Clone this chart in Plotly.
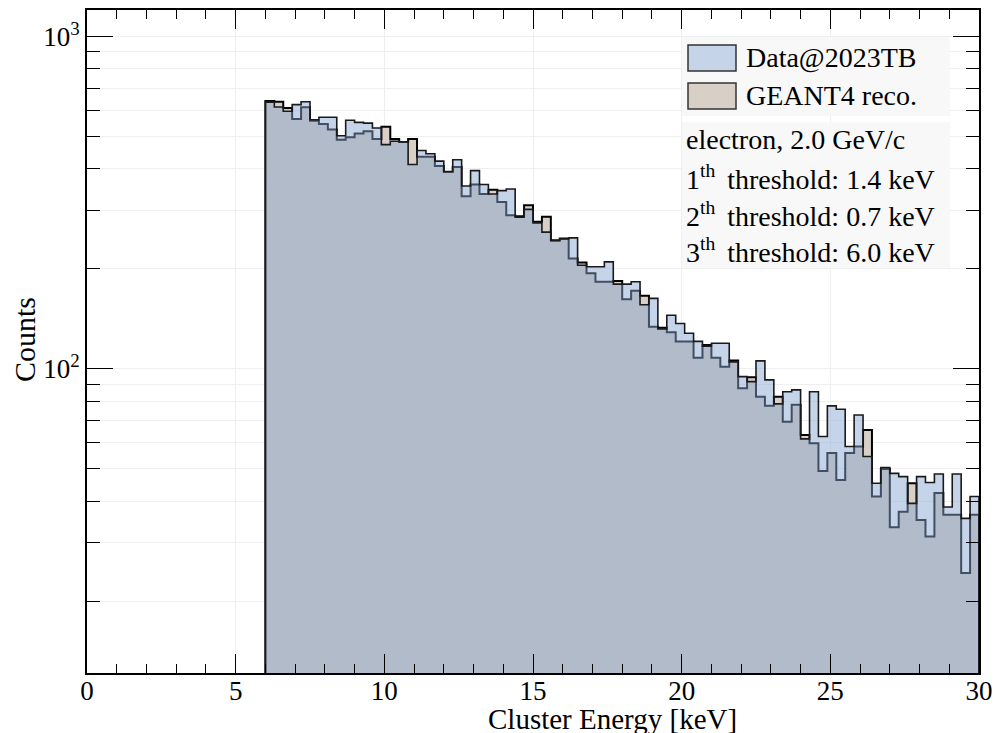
import numpy as np
import plotly.graph_objects as go

# ---------------- data ----------------
bin_width = 0.3          # keV
first_edge = 6.0         # keV (3rd threshold)

data_counts = [635, 614, 596, 624, 637, 562, 572, 572, 503, 560,
               552, 549, 531, 473, 484, 482, 412, 454, 444, 422,
               392, 426, 355, 395, 359, 336, 344, 348, 286, 302,
               275, 258, 243, 246, 248, 205, 203, 203, 210, 180,
               180, 183, 156, 163, 132, 145, 137, 128, 121, 117,
               119.5, 119.5, 105, 94.8, 91.6, 105.7, 92.7, 78.5, 85.4, 86.5,
               61.6, 85.4, 62.6, 77.4, 75.6, 58.4, 72.7, 54.5, 45.3, 50.5,
               48.5, 47.4, 39.4, 47.4, 45.5, 48.3, 38.4, 48.3, 35.5, 41.3]

g4_counts = [640, 637, 610, 565, 613, 558, 546, 525, 489, 498,
             511, 519, 492, 535, 492, 482, 492, 435, 435, 408,
             392, 405, 331, 359, 336, 346, 318, 290, 288, 311,
             277, 287, 244, 247, 215, 209, 194, 183, 183, 184,
             162, 172, 166, 134, 133, 129, 121, 121, 108, 118,
             108, 101.6, 106, 87.5, 94.4, 82.5, 77.5, 82.5, 69.4, 78,
             63.3, 59.7, 49.3, 55.8, 46.3, 55.8, 58.4, 65.5, 41.3, 50,
             33.4, 37.2, 45.3, 35.1, 31.3, 42.3, 36.4, 36.4, 24.3, 36.4]

legend_labels = ["Data@2023TB", "GEANT4 reco."]
info_lines = ["electron, 2.0 GeV/c",
              "1<sup>th </sup> threshold: 1.4 keV",
              "2<sup>th </sup> threshold: 0.7 keV",
              "3<sup>th </sup> threshold: 6.0 keV"]

x_title = "Cluster Energy [keV]"
y_title = "Counts"

# ---------------- styling ----------------
FONT = "Liberation Serif"
DATA_FILL = "rgba(134,165,207,0.48)"
G4_FILL = "rgb(216,207,198)"
DATA_SWATCH = "rgb(197,212,232)"
G4_SWATCH = "rgb(216,207,198)"
GRID = "#efefef"

W, H = 994, 733
L, R, T, B = 87, 15, 10, 60
PW, PH = W - L - R, H - T - B


def px2x(px):
    return (px - L) / PW


def py2y(py):
    return (H - B - py) / PH


edges = first_edge + bin_width * np.arange(len(data_counts) + 1)
FLOOR = 1.0  # below the visible log range, closes the filled step shape


def step_xy(counts):
    x = [edges[0]] + list(edges[:-1]) + [edges[-1], edges[-1]]
    y = [FLOOR] + list(counts) + [counts[-1], FLOOR]
    return x, y


fig = go.Figure()

gx, gy = step_xy(g4_counts)
fig.add_trace(go.Scatter(x=gx, y=gy, mode="lines", line_shape="hv",
                         fill="toself", fillcolor=G4_FILL,
                         line=dict(color="black", width=2),
                         name=legend_labels[1], hoverinfo="skip"))

dx, dy = step_xy(data_counts)
fig.add_trace(go.Scatter(x=dx, y=dy, mode="lines", line_shape="hv",
                         fill="toself", fillcolor=DATA_FILL,
                         line=dict(color="#1a1a1a", width=1.6),
                         name=legend_labels[0], hoverinfo="skip"))

minor_y = [v * 10 ** d for d in (1, 2) for v in range(2, 10)]

fig.update_layout(
    width=W, height=H,
    margin=dict(l=L, r=R, t=T, b=B, autoexpand=False),
    plot_bgcolor="white", paper_bgcolor="white",
    font=dict(family=FONT, size=27, color="black"),
    showlegend=False,
)

fig.update_xaxes(
    range=[0, 30], tickmode="linear", tick0=0, dtick=5, automargin=False,
    ticks="inside", ticklen=19, tickwidth=1.2, tickcolor="black",
    showline=True, linecolor="black", linewidth=2, mirror="allticks",
    showgrid=True, gridcolor=GRID, gridwidth=1, zeroline=False,
    tickfont=dict(family=FONT, size=27, color="black"),
    ticklabelstandoff=-7,
    minor=dict(dtick=1, tick0=0, ticks="inside", ticklen=9, tickwidth=1.2,
               tickcolor="black", showgrid=False),
)

fig.update_yaxes(
    type="log", range=[1.085, 3.08], automargin=False,
    tickmode="array", tickvals=[100, 1000],
    ticktext=["10<sup>2</sup>", "10<sup>3</sup>"],
    ticks="inside", ticklen=26, tickwidth=1.2, tickcolor="black",
    showline=True, linecolor="black", linewidth=2, mirror="allticks",
    showgrid=True, gridcolor=GRID, gridwidth=1, zeroline=False,
    tickfont=dict(family=FONT, size=27, color="black"),
    minor=dict(tickmode="array", tickvals=minor_y, ticks="inside",
               ticklen=13, tickwidth=1.2, tickcolor="black",
               showgrid=True, gridcolor=GRID, gridwidth=1),
)

shapes = []
annotations = []

# light boxes behind legend and info text
box_color = "rgba(247,247,247,0.92)"
shapes.append(dict(type="rect", xref="paper", yref="paper", layer="above",
                   x0=px2x(682), x1=px2x(950), y0=py2y(116), y1=py2y(37),
                   fillcolor=box_color, line=dict(width=0)))
shapes.append(dict(type="rect", xref="paper", yref="paper", layer="above",
                   x0=px2x(682), x1=px2x(950), y0=py2y(268), y1=py2y(122),
                   fillcolor=box_color, line=dict(width=0)))

# legend swatches
for (label, sw, yc) in [(legend_labels[0], DATA_SWATCH, 58),
                        (legend_labels[1], G4_SWATCH, 96)]:
    shapes.append(dict(type="rect", xref="paper", yref="paper", layer="above",
                       x0=px2x(688), x1=px2x(736), y0=py2y(yc + 13), y1=py2y(yc - 13),
                       fillcolor=sw, line=dict(color="#333333", width=1.5)))
    annotations.append(dict(text=label, xref="paper", yref="paper",
                            x=px2x(744), y=py2y(yc), xanchor="left", yanchor="middle",
                            showarrow=False, font=dict(family=FONT, size=28, color="black")))

for line, yc in zip(info_lines, [140, 177, 214, 250]):
    annotations.append(dict(text=line, xref="paper", yref="paper",
                            x=px2x(684), y=py2y(yc), xanchor="left", yanchor="middle",
                            showarrow=False, font=dict(family=FONT, size=28, color="black")))

# axis titles
annotations.append(dict(text=x_title, xref="paper", yref="paper",
                        x=px2x(612), y=py2y(719), xanchor="center", yanchor="middle",
                        showarrow=False, font=dict(family=FONT, size=29, color="black")))
annotations.append(dict(text=y_title, xref="paper", yref="paper",
                        x=px2x(24), y=py2y(340), xanchor="center", yanchor="middle",
                        textangle=-90, showarrow=False,
                        font=dict(family=FONT, size=30, color="black")))

fig.update_layout(shapes=shapes, annotations=annotations)

fig.write_html("out.html")
